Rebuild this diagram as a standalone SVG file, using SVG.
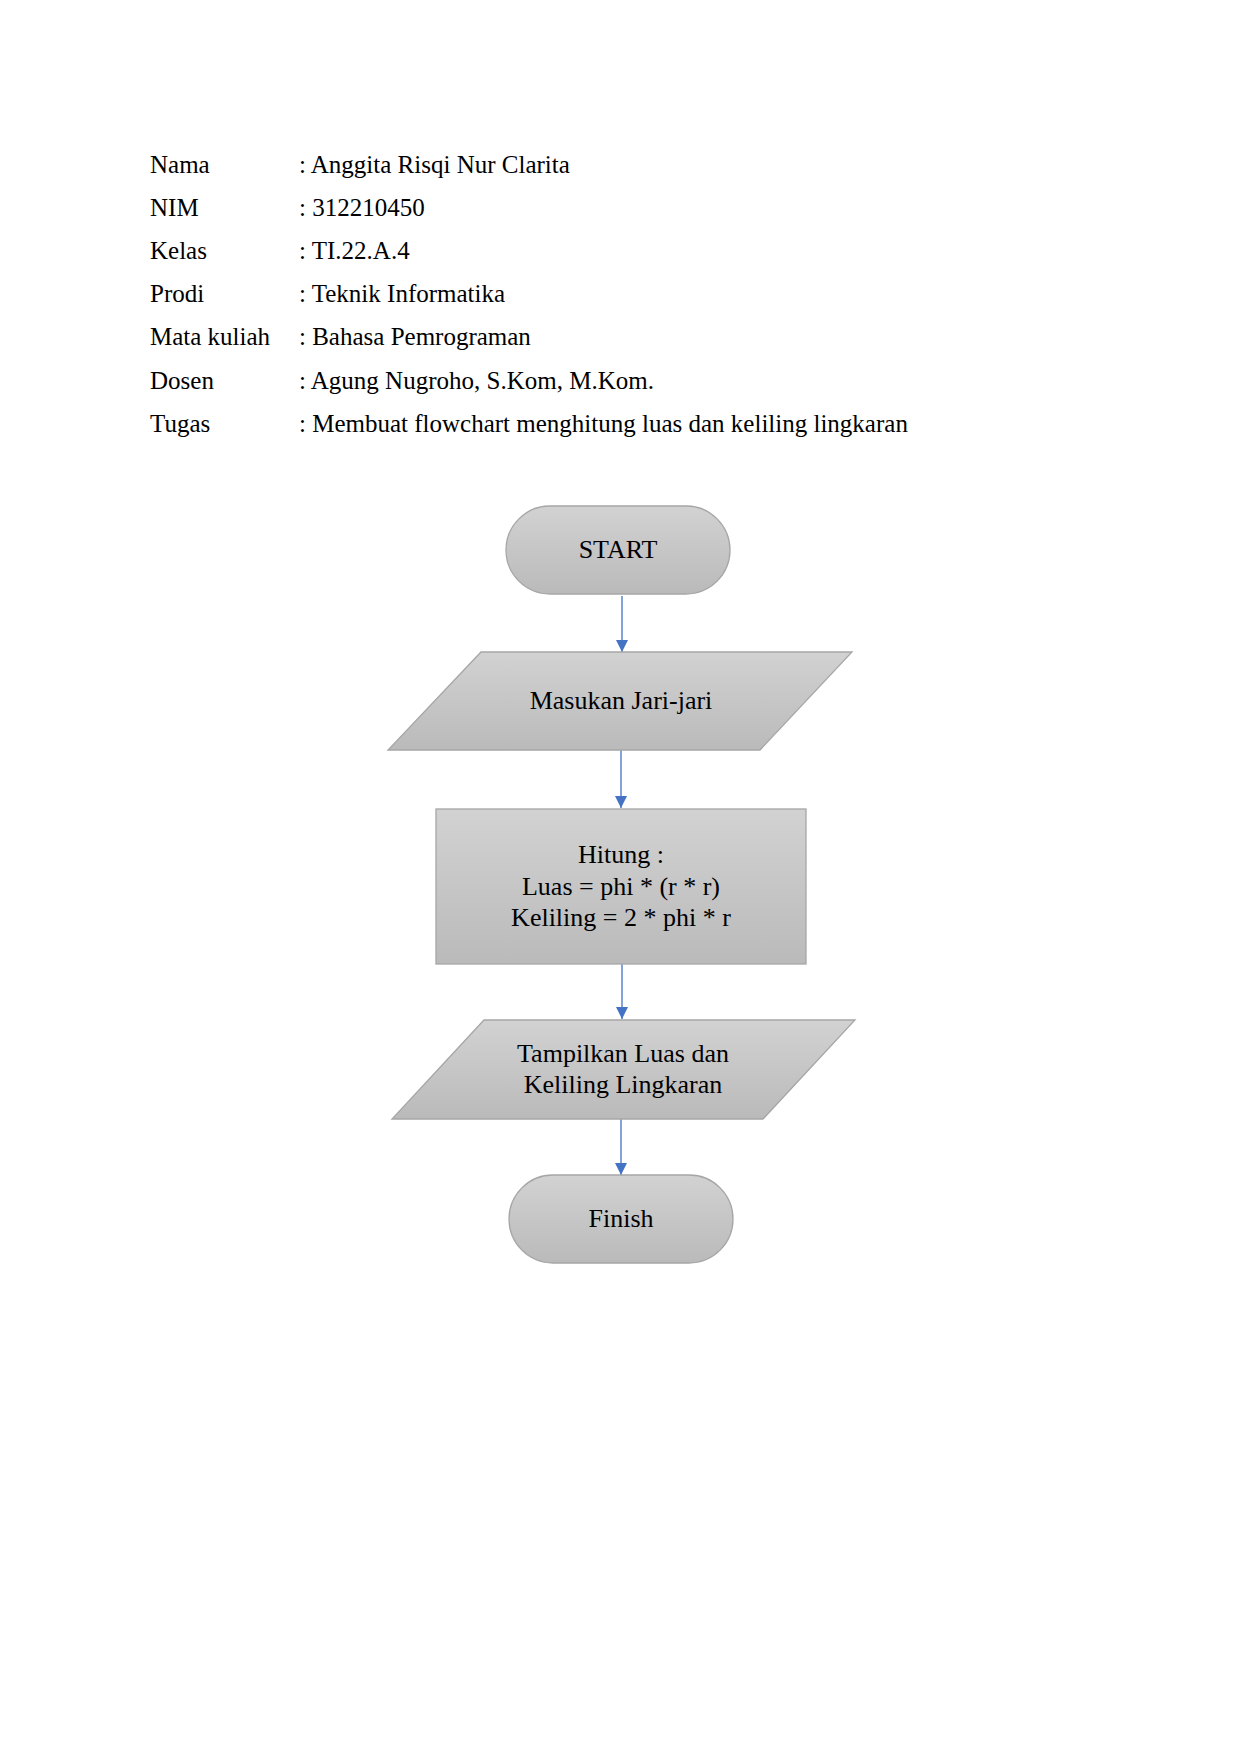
<svg xmlns="http://www.w3.org/2000/svg" width="1241" height="1755" viewBox="0 0 1241 1755">
<style>
.hd{font-family:"Liberation Serif","Times New Roman",serif;font-size:25px;fill:#000}
.nt{font-family:"Liberation Serif","Times New Roman",serif;font-size:26px;fill:#000;text-anchor:middle}
.shape{fill:url(#g);stroke:#a6a6a6;stroke-width:1.3}
.conn{stroke:#4472c4;stroke-width:1.3;fill:none;marker-end:url(#ah)}
</style>
<defs>
<linearGradient id="g" x1="0" y1="0" x2="0" y2="1">
<stop offset="0" stop-color="#d2d2d2"/>
<stop offset="1" stop-color="#bababa"/>
</linearGradient>
<marker id="ah" viewBox="0 0 12 12" refX="12" refY="6" markerWidth="12" markerHeight="12" markerUnits="userSpaceOnUse" orient="auto">
<path d="M0,0 L12,6 L0,12 z" fill="#4472c4"/>
</marker>
</defs>
<rect width="1241" height="1755" fill="#fff"/>
<g id="header">
<text class="hd" x="150" y="173">Nama</text><text class="hd" x="299" y="173">: Anggita Risqi Nur Clarita</text>
<text class="hd" x="150" y="216">NIM</text><text class="hd" x="299" y="216">: 312210450</text>
<text class="hd" x="150" y="259">Kelas</text><text class="hd" x="299" y="259">: TI.22.A.4</text>
<text class="hd" x="150" y="302">Prodi</text><text class="hd" x="299" y="302">: Teknik Informatika</text>
<text class="hd" x="150" y="345">Mata kuliah</text><text class="hd" x="299" y="345">: Bahasa Pemrograman</text>
<text class="hd" x="150" y="389">Dosen</text><text class="hd" x="299" y="389">: Agung Nugroho, S.Kom, M.Kom.</text>
<text class="hd" x="150" y="432">Tugas</text><text class="hd" x="299" y="432">: Membuat flowchart menghitung luas dan keliling lingkaran</text>
</g>
<g id="connectors">
<path class="conn" d="M622,596 L622,652"/>
<path class="conn" d="M621,750 L621,808"/>
<path class="conn" d="M622,964 L622,1019"/>
<path class="conn" d="M621,1119 L621,1175"/>
</g>
<g id="start">
<rect class="shape" x="506" y="506" width="224" height="88" rx="44"/>
<text class="nt" x="618" y="558">START</text>
</g>
<g id="input">
<polygon class="shape" points="481,652 852,652 760,750 388,750"/>
<text class="nt" x="621" y="709">Masukan Jari-jari</text>
</g>
<g id="process">
<rect class="shape" x="436" y="809" width="370" height="155"/>
<text class="nt" x="621" y="863">Hitung :</text>
<text class="nt" x="621" y="895">Luas = phi * (r * r)</text>
<text class="nt" x="621" y="926">Keliling = 2 * phi * r</text>
</g>
<g id="output">
<polygon class="shape" points="484,1020 855,1020 763,1119 392,1119"/>
<text class="nt" x="623" y="1062">Tampilkan Luas dan</text>
<text class="nt" x="623" y="1093">Keliling Lingkaran</text>
</g>
<g id="finish">
<rect class="shape" x="509" y="1175" width="224" height="88" rx="44"/>
<text class="nt" x="621" y="1227">Finish</text>
</g>
</svg>
